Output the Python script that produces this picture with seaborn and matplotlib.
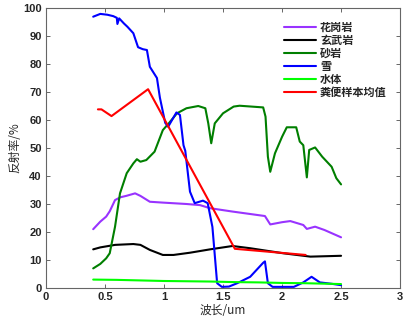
import matplotlib
matplotlib.use("Agg")
import matplotlib.pyplot as plt
import seaborn as sns
import pandas as pd

# ---- data ----
granite_x = [0.40, 0.46, 0.51, 0.54, 0.585, 0.63, 0.68, 0.755, 0.80, 0.88, 0.99, 1.19, 1.305, 1.39,
             1.58, 1.855, 1.90, 2.0, 2.07, 2.18, 2.21, 2.28, 2.36, 2.5]
granite_y = [21, 23.7, 25.5, 27.4, 31.4, 32.4, 32.9, 33.8, 32.9, 30.8, 30.5, 30, 29.6, 28.5,
             27.3, 25.7, 22.7, 23.5, 23.9, 22.5, 21.1, 21.9, 20.7, 18.1]

basalt_x = [0.40, 0.46, 0.585, 0.74, 0.80, 0.88, 0.99, 1.08, 1.22, 1.39, 1.58, 1.73, 2.01, 2.24, 2.5]
basalt_y = [13.8, 14.5, 15.4, 15.7, 15.4, 13.6, 11.8, 11.8, 12.6, 13.8, 15, 14.2, 12.4, 11.2, 11.5]

sand_x = [0.40, 0.46, 0.51, 0.54, 0.585, 0.627, 0.684, 0.74, 0.77, 0.80, 0.85, 0.92, 0.99, 1.04,
          1.11, 1.19, 1.29, 1.35, 1.375, 1.40, 1.43, 1.50, 1.59, 1.64, 1.84, 1.86, 1.88, 1.90,
          1.94, 2.0, 2.04, 2.12, 2.15, 2.18, 2.21, 2.23, 2.28, 2.34, 2.38, 2.42, 2.46, 2.5]
sand_y = [7, 8.6, 10.6, 12.4, 21.9, 33.8, 41, 44.5, 46, 45.1, 45.7, 48.7, 56.4, 58.8,
          62.4, 64.2, 65, 64.2, 58.8, 51.7, 58.8, 62.4, 64.8, 65.1, 64.5, 61.2, 46.9, 41.5,
          48.1, 54, 57.4, 57.4, 52.3, 51, 39.5, 49.3, 50.2, 46.9, 45.1, 43.3, 39.2, 37]

snow_x = [0.40, 0.46, 0.52, 0.57, 0.60, 0.605, 0.62, 0.66, 0.69, 0.74, 0.78, 0.82, 0.855, 0.88,
          0.94, 0.965, 1.01, 1.035, 1.105, 1.135, 1.165, 1.18, 1.22, 1.26, 1.33, 1.37, 1.41,
          1.45, 1.49, 1.55, 1.62, 1.73, 1.84, 1.855, 1.88, 1.92, 2.0, 2.1, 2.18, 2.25, 2.32,
          2.42, 2.5]
snow_y = [96.9, 97.9, 97.6, 97.1, 96.5, 94.3, 96.3, 94.5, 93.3, 91, 86, 85.3, 85, 79,
          75, 68, 59, 57.6, 62.7, 61.8, 51, 49, 34.4, 30.3, 31.2, 30.3, 21.8,
          1.7, 0.4, 0.5, 1.7, 4, 9, 9.5, 1.7, 0.4, 0.4, 0.4, 2, 4, 2,
          1.5, 1]

water_x = [0.4, 0.6, 0.8, 1.0, 1.2, 1.4, 1.6, 1.8, 2.0, 2.2, 2.4, 2.5]
water_y = [3.0, 2.9, 2.7, 2.5, 2.4, 2.3, 2.1, 2.0, 1.8, 1.7, 1.5, 1.4]

feces_x = [0.44, 0.47, 0.555, 0.865, 1.6, 2.2]
feces_y = [63.8, 63.8, 61.4, 71, 14, 11.8]

labels = ["花岗岩", "玄武岩", "砂岩", "雪", "水体", "粪便样本均值"]
colors = ["#9933FF", "#000000", "#007F00", "#0000FF", "#00FF00", "#FF0000"]

xticks = [0, 0.5, 1, 1.5, 2, 2.5, 3]
xticklabels = ["0", "0.5", "1", "1.5", "2", "2.5", "3"]
yticks = [0, 10, 20, 30, 40, 50, 60, 70, 80, 90, 100]

series = [(granite_x, granite_y), (basalt_x, basalt_y), (sand_x, sand_y),
          (snow_x, snow_y), (water_x, water_y), (feces_x, feces_y)]

frames = []
for lab, (xs, ys) in zip(labels, series):
    frames.append(pd.DataFrame({"x": xs, "y": ys, "name": lab}))
df = pd.concat(frames, ignore_index=True)

sns.set_style("ticks")
plt.rcParams['font.family'] = ['Noto Sans CJK SC', 'DejaVu Sans']

fig = plt.figure(figsize=(4.07, 3.26), dpi=100)
ax = fig.add_axes([0.113, 0.1166, 0.870, 0.8588])

sns.lineplot(data=df, x="x", y="y", hue="name", hue_order=labels, palette=colors,
             sort=False, estimator=None, linewidth=1.5, ax=ax, legend=True)

ax.set_xlim(0, 3)
ax.set_ylim(0, 100)
ax.set_xticks(xticks)
ax.set_xticklabels(xticklabels)
ax.set_yticks(yticks)
for t in ax.get_xticklabels() + ax.get_yticklabels():
    t.set_fontfamily(['Liberation Sans', 'DejaVu Sans'])
    t.set_fontweight('bold')
    t.set_fontsize(8)
ax.tick_params(direction='in', top=True, right=True, length=3, width=0.7,
               color='#666666', pad=3)
for s in ax.spines.values():
    s.set_visible(True)
    s.set_color('#666666')
    s.set_linewidth(0.8)

ax.set_xlabel("波长/um", fontsize=8.5, labelpad=1)
ax.set_ylabel("反射率/%", fontsize=8.5, labelpad=1)

leg = ax.legend(loc='upper left', bbox_to_anchor=(0.672, 0.955), frameon=False,
                fontsize=8, handlelength=2.9, handletextpad=0.35, labelspacing=0.0,
                borderpad=0, borderaxespad=0)
for t in leg.get_texts():
    t.set_fontweight('bold')

fig.savefig("out.png", dpi=100)
